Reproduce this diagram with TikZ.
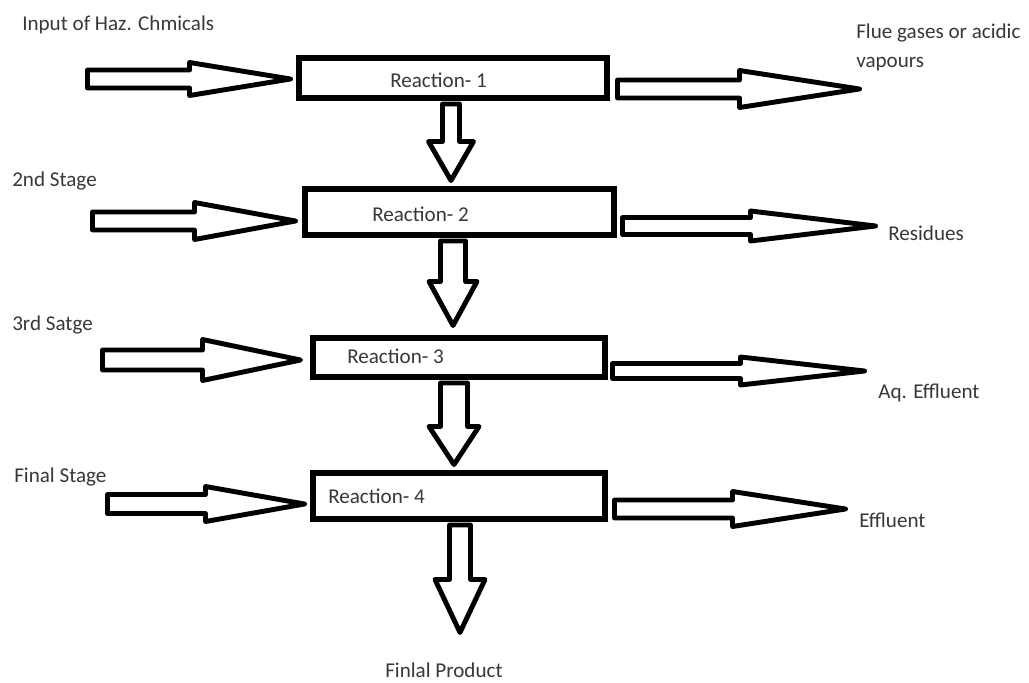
\documentclass[tikz,border=0pt]{standalone}
\usepackage{fontspec}
\setmainfont{Carlito}
\usetikzlibrary{calc}

% one drawing unit
\def\pxlen{0.025cm}

% hollow block arrow: #1 tail, #2 tip, #3 shaft half-width,
% #4 head half-width, #5 head length (all in drawing units)
\newcommand\blockarrow[5]{%
  \coordinate (#1base) at ($(#2)!#5*\pxlen!(#1)$);
  \draw[blockarrow]
    ($(#1)!#3*\pxlen!90:(#2)$) --
    ($(#1base)!#3*\pxlen!90:(#2)$) --
    ($(#1base)!#4*\pxlen!90:(#2)$) --
    (#2) --
    ($(#1base)!#4*\pxlen!-90:(#2)$) --
    ($(#1base)!#3*\pxlen!-90:(#2)$) --
    ($(#1)!#3*\pxlen!-90:(#2)$) -- cycle;}

\tikzset{
  reactbox/.style={draw=black, line width=4.5pt, fill=white, inner sep=0pt,
    minimum width=#1*\pxlen},
  reactbox/.default=300,
  blockarrow/.style={draw=black, line width=3.5pt, fill=white, line join=round},
  lbl/.style={inner sep=0pt, anchor=base west, text=black!78,
    font=\fontsize{15}{21.3}\selectfont}
}

\begin{document}
\begin{tikzpicture}[x=0.025cm, y=-0.025cm]
\useasboundingbox (0,0) rectangle (1029,682);

% reaction vessels
\node[reactbox=308, minimum height=40*\pxlen] (r1) at (453,78) {};
\node[reactbox=309, minimum height=46*\pxlen] (r2) at (459.5,212) {};
\node[reactbox=292, minimum height=39*\pxlen] (r3) at (459,357.5) {};
\node[reactbox=292, minimum height=46*\pxlen] (r4) at (459,496) {};

\node[lbl] (t1) at (390,88) {Reaction- 1};
\node[lbl] (t2) at (372,222) {Reaction- 2};
\node[lbl] (t3) at (347,363) {Reaction- 3};
\node[lbl] (t4) at (328,503) {Reaction- 4};

% stage inputs
\node[lbl] (in1lbl) at (22,31) {Input of Haz. Chmicals};
\node[lbl] (in2lbl) at (12,187) {2nd Stage};
\node[lbl] (in3lbl) at (12,330) {3rd Satge};
\node[lbl] (in4lbl) at (14,482) {Final Stage};

% outputs (a multi-line node sits on its last baseline)
\node[lbl, align=left] (out1lbl) at (856,68) {Flue gases or acidic\\vapours};
\node[lbl] (out2lbl) at (888,240) {Residues};
\node[lbl] (out3lbl) at (878,398) {Aq. Effluent};
\node[lbl] (out4lbl) at (859,527) {Effluent};
\node[lbl] (prodlbl) at (385,677) {Finlal Product};

% arrow ends
\coordinate (in1) at (87.5,79);   \coordinate (in1tip) at (290.5,79);
\coordinate (in2) at (92.5,221);  \coordinate (in2tip) at (295.5,221);
\coordinate (in3) at (102.5,360); \coordinate (in3tip) at (300.5,360);
\coordinate (in4) at (107.5,504); \coordinate (in4tip) at (304.5,504);

\coordinate (out1) at (617.5,89);  \coordinate (out1tip) at (859.5,89);
\coordinate (out2) at (622.5,226); \coordinate (out2tip) at (875.5,226);
\coordinate (out3) at (612.5,371); \coordinate (out3tip) at (864.5,371);
\coordinate (out4) at (614.5,509); \coordinate (out4tip) at (845.5,509);

\coordinate (dn1) at (451,104); \coordinate (dn1tip) at (451,180.5);
\coordinate (dn2) at (453,241); \coordinate (dn2tip) at (453,325.5);
\coordinate (dn3) at (454,383); \coordinate (dn3tip) at (454,464.5);
\coordinate (dn4) at (460,525); \coordinate (dn4tip) at (460,632.5);

% feed arrows
\blockarrow{in1}{in1tip}{9}{16.5}{101}
\blockarrow{in2}{in2tip}{9}{18.5}{101}
\blockarrow{in3}{in3tip}{10}{20.5}{98}
\blockarrow{in4}{in4tip}{9.5}{17.5}{99}

% discharge arrows
\blockarrow{out1}{out1tip}{9}{18.5}{120}
\blockarrow{out2}{out2tip}{8.5}{15}{125}
\blockarrow{out3}{out3tip}{7.5}{14}{124}
\blockarrow{out4}{out4tip}{9}{17.5}{113}

% transfer between reactions
\blockarrow{dn1}{dn1tip}{8.5}{22.5}{39}
\blockarrow{dn2}{dn2tip}{12.5}{24}{44}
\blockarrow{dn3}{dn3tip}{13.5}{25}{38}
\blockarrow{dn4}{dn4tip}{10.5}{25}{53}
\end{tikzpicture}
\end{document}
